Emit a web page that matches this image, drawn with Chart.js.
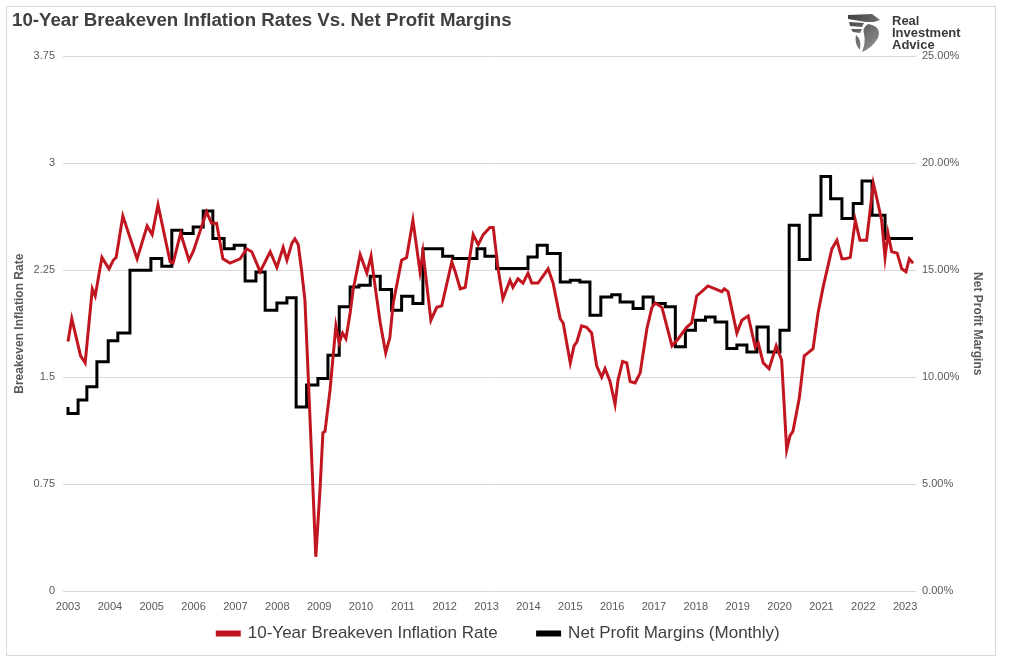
<!DOCTYPE html>
<html>
<head>
<meta charset="utf-8">
<script src="https://cdn.jsdelivr.net/npm/chart.js@4.4.1/dist/chart.umd.min.js"></script>
<style>
html,body{margin:0;padding:0;background:#fff;}
canvas{display:block;}
</style>
</head>
<body>
<canvas id="c" width="1010" height="667"></canvas>
<script>
// ---- DATA ----
const chartTitle = "10-Year Breakeven Inflation Rates Vs. Net Profit Margins";
const seriesNames = ["10-Year Breakeven Inflation Rate", "Net Profit Margins (Monthly)"];
const yearTicks = [2003,2004,2005,2006,2007,2008,2009,2010,2011,2012,2013,2014,2015,2016,2017,2018,2019,2020,2021,2022,2023];
const leftTicks = [0, 0.75, 1.5, 2.25, 3, 3.75];
const rightTicks = [0, 5, 10, 15, 20, 25];

// 10-Year breakeven inflation rate (decimal year, value)
const bkYears = [2003.00,2003.09,2003.30,2003.41,2003.58,2003.65,2003.81,2003.98,2004.08,2004.15,2004.31,2004.65,2004.89,2005.01,2005.15,2005.44,2005.51,2005.69,2005.89,2005.99,
2006.31,2006.43,2006.55,2006.70,2006.87,2007.11,2007.27,2007.39,2007.59,2007.83,2007.99,2008.14,2008.23,2008.35,2008.42,2008.50,2008.58,2008.66,2008.73,2008.82,
2008.92,2009.02,2009.09,2009.14,2009.26,2009.40,2009.48,2009.56,2009.64,2009.74,2009.81,2009.98,2010.14,2010.24,2010.34,2010.46,2010.59,2010.69,2010.77,2010.97,
2011.09,2011.24,2011.41,2011.48,2011.67,2011.81,2011.93,2012.17,2012.25,2012.37,2012.49,2012.68,2012.80,2012.92,2013.08,2013.16,2013.27,2013.39,2013.56,2013.63,
2013.75,2013.87,2013.99,2014.08,2014.23,2014.47,2014.59,2014.76,2014.83,2015.00,2015.09,2015.16,2015.27,2015.39,2015.51,2015.63,2015.75,2015.83,2015.95,2016.07,
2016.14,2016.25,2016.35,2016.43,2016.55,2016.67,2016.83,2016.95,2017.03,2017.19,2017.43,2017.58,2017.78,2017.90,2018.02,2018.14,2018.29,2018.46,2018.62,2018.68,
2018.77,2018.98,2019.10,2019.25,2019.42,2019.49,2019.61,2019.75,2019.92,2020.05,2020.17,2020.25,2020.32,2020.47,2020.59,2020.68,2020.80,2020.92,2021.04,2021.25,
2021.37,2021.49,2021.57,2021.69,2021.81,2021.92,2022.08,2022.24,2022.32,2022.44,2022.52,2022.59,2022.68,2022.81,2022.92,2023.02,2023.10,2023.19];
const bkValues = [1.75,1.91,1.65,1.60,2.12,2.07,2.34,2.26,2.32,2.34,2.63,2.33,2.56,2.50,2.71,2.31,2.30,2.51,2.32,2.38,
2.66,2.58,2.58,2.33,2.30,2.33,2.40,2.38,2.24,2.38,2.27,2.41,2.32,2.44,2.47,2.43,2.25,2.04,1.57,0.94,
0.24,0.71,1.11,1.12,1.41,1.86,1.74,1.81,1.77,1.95,2.11,2.36,2.23,2.35,2.13,1.88,1.67,1.78,2.02,2.32,
2.34,2.60,2.24,2.38,1.90,1.99,2.00,2.31,2.24,2.12,2.13,2.50,2.43,2.50,2.55,2.55,2.27,2.05,2.18,2.13,
2.19,2.16,2.23,2.16,2.16,2.26,2.16,1.91,1.88,1.60,1.72,1.75,1.86,1.85,1.81,1.58,1.50,1.56,1.47,1.31,
1.48,1.61,1.60,1.47,1.46,1.53,1.84,1.99,2.02,1.99,1.72,1.77,1.85,1.88,2.07,2.10,2.14,2.12,2.10,2.12,
2.10,1.81,1.90,1.93,1.71,1.74,1.60,1.56,1.72,1.62,0.99,1.09,1.12,1.35,1.65,1.67,1.70,1.95,2.13,2.40,
2.46,2.33,2.33,2.34,2.60,2.46,2.46,2.86,2.76,2.60,2.34,2.51,2.38,2.37,2.26,2.24,2.33,2.30];

// Net profit margins (%), each value holds from its start year until the next one
const npmYears = [2003.00,2003.24,2003.45,2003.69,2003.96,2004.19,2004.48,2004.98,2005.24,2005.48,2005.72,2005.99,2006.23,2006.46,2006.73,2006.97,2007.23,2007.49,2007.71,2007.99,
2008.23,2008.45,2008.70,2008.97,2009.21,2009.48,2009.74,2009.95,2010.22,2010.46,2010.73,2010.97,2011.24,2011.48,2011.95,2012.19,2012.77,2012.96,2013.24,2013.99,
2014.21,2014.45,2014.76,2015.00,2015.23,2015.47,2015.73,2015.99,2016.19,2016.50,2016.74,2016.98,2017.27,2017.51,2017.75,2017.99,2018.23,2018.46,2018.74,2018.98,
2019.22,2019.46,2019.73,2020.01,2020.23,2020.47,2020.73,2020.99,2021.22,2021.49,2021.76,2021.97,2022.21,2022.52,2022.76,2023.19];
const npmValues = [8.61,8.30,8.93,9.55,10.72,11.70,12.07,15.00,15.55,15.19,16.87,16.72,17.02,17.77,16.48,16.01,16.17,14.50,14.92,13.13,
13.47,13.72,8.61,9.63,9.94,11.03,13.29,14.22,14.30,14.72,14.10,13.13,13.79,13.44,16.01,15.65,15.55,16.01,15.65,15.08,
15.62,16.17,15.78,14.45,14.53,14.45,12.90,13.75,13.86,13.52,13.21,13.75,13.44,13.29,11.42,12.20,12.66,12.82,12.58,11.34,
11.50,11.18,12.35,11.18,12.20,17.10,15.50,17.57,19.39,18.35,17.42,18.12,19.17,17.57,16.48,16.48];

// ---- STYLE ----
const FONT = "'Liberation Sans', Arial, sans-serif";
const RED = '#c1161f';
const TICK = '#595959';

const framePlugin = {
  id: 'frame',
  beforeDraw(chart) {
    const ctx = chart.ctx;
    ctx.save();
    ctx.fillStyle = '#ffffff';
    ctx.fillRect(0, 0, chart.width, chart.height);
    ctx.strokeStyle = '#d9d9d9';
    ctx.lineWidth = 1;
    ctx.strokeRect(6.5, 6.5, 989, 649);
    ctx.restore();
  },
  afterDraw(chart) {
    const ctx = chart.ctx;
    ctx.save();
    // stylised eagle mark
    const g = ctx.createLinearGradient(846, 12, 882, 52);
    g.addColorStop(0, '#3a3a3a');
    g.addColorStop(1, '#9a9a9a');
    ctx.fillStyle = g;
    ctx.beginPath();
    ctx.moveTo(848, 15); ctx.lineTo(872, 14); ctx.lineTo(880, 20); ctx.lineTo(874, 22);
    ctx.lineTo(866, 22); ctx.lineTo(848, 19); ctx.closePath(); ctx.fill();
    ctx.beginPath();
    ctx.moveTo(849, 22); ctx.lineTo(864, 23); ctx.lineTo(862, 27); ctx.lineTo(850, 26); ctx.closePath(); ctx.fill();
    ctx.beginPath();
    ctx.moveTo(851, 29); ctx.lineTo(862, 29); ctx.lineTo(860, 33); ctx.lineTo(853, 32); ctx.closePath(); ctx.fill();
    ctx.beginPath();
    ctx.moveTo(868, 24); ctx.quadraticCurveTo(882, 26, 878, 38);
    ctx.quadraticCurveTo(872, 48, 862, 52); ctx.quadraticCurveTo(866, 42, 864, 34);
    ctx.quadraticCurveTo(862, 28, 868, 24); ctx.closePath(); ctx.fill();
    ctx.beginPath();
    ctx.moveTo(856, 35); ctx.quadraticCurveTo(862, 40, 860, 50); ctx.quadraticCurveTo(854, 44, 856, 35); ctx.fill();
    ctx.fillStyle = '#3b3b3b';
    ctx.font = "bold 13px " + FONT;
    ctx.textBaseline = 'alphabetic';
    ctx.textAlign = 'left';
    ctx.fillText('Real', 892, 25);
    ctx.fillText('Investment', 892, 37);
    ctx.fillText('Advice', 892, 49);
    ctx.restore();
  }
};

const ctx = document.getElementById('c').getContext('2d');
new Chart(ctx, {
  type: 'line',
  data: {
    datasets: [
      {
        label: seriesNames[0],
        data: bkYears.map((x, i) => ({ x: x, y: bkValues[i] })),
        yAxisID: 'y',
        borderColor: RED,
        backgroundColor: RED,
        borderWidth: 3,
        pointRadius: 0,
        tension: 0,
        order: 0
      },
      {
        label: seriesNames[1],
        data: npmYears.map((x, i) => ({ x: x, y: npmValues[i] })),
        yAxisID: 'y2',
        borderColor: '#000000',
        backgroundColor: '#000000',
        borderWidth: 3,
        pointRadius: 0,
        stepped: 'after',
        order: 1
      }
    ]
  },
  options: {
    responsive: false,
    devicePixelRatio: 1,
    animation: false,
    layout: { padding: { left: 12, right: 25, top: 0, bottom: 9 } },
    plugins: {
      title: {
        display: true,
        text: chartTitle,
        align: 'start',
        color: '#404040',
        font: { family: FONT, size: 18.7, weight: 'bold' },
        padding: { top: 10, bottom: 24 }
      },
      legend: {
        display: true,
        position: 'bottom',
        labels: {
          color: '#404040',
          font: { family: FONT, size: 17 },
          boxWidth: 22,
          boxHeight: 3,
          padding: 40
        }
      },
      tooltip: { enabled: false }
    },
    scales: {
      x: {
        type: 'linear',
        min: 2002.88,
        max: 2023.26,
        afterBuildTicks: s => { s.ticks = yearTicks.map(v => ({ value: v })); },
        afterFit: s => { s.height = -6; },
        ticks: {
          autoSkip: false, maxRotation: 0, minRotation: 0, mirror: true,
          color: TICK, font: { family: FONT, size: 11 }, padding: -23,
          callback: v => String(v)
        },
        grid: { display: false, drawTicks: false },
        border: { display: false }
      },
      y: {
        position: 'left',
        min: 0, max: 3.75,
        afterBuildTicks: s => { s.ticks = leftTicks.map(v => ({ value: v })); },
        afterFit: s => { s.width = 51; },
        ticks: { color: TICK, font: { family: FONT, size: 11 }, padding: 8, callback: v => String(v) },
        grid: { color: '#d9d9d9', lineWidth: 1, drawTicks: false },
        border: { display: false },
        title: { display: true, text: 'Breakeven Inflation Rate', color: TICK, font: { family: FONT, size: 12, weight: 'bold' }, padding: 0 }
      },
      y2: {
        position: 'right',
        min: 0, max: 25,
        afterBuildTicks: s => { s.ticks = rightTicks.map(v => ({ value: v })); },
        afterFit: s => { s.width = 69; },
        ticks: { color: TICK, font: { family: FONT, size: 11 }, padding: 6, callback: v => v.toFixed(2) + '%' },
        grid: { display: false, drawTicks: false },
        border: { display: false },
        title: { display: true, text: 'Net Profit Margins', color: TICK, font: { family: FONT, size: 12, weight: 'bold' }, padding: 0 }
      }
    }
  },
  plugins: [framePlugin]
});
</script>
</body>
</html>
